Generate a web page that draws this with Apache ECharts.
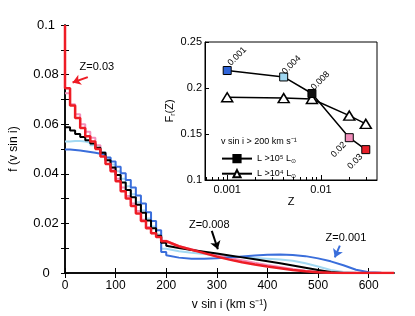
<!DOCTYPE html>
<html><head><meta charset="utf-8">
<script src="https://cdn.jsdelivr.net/npm/echarts@6/dist/echarts.min.js"></script>
<style>html,body{margin:0;padding:0;background:#fff}#c{width:415px;height:316px}</style>
</head><body><div id="c"></div>
<script>
// ---- main panel: histogram bins (0-200 km/s, 10 km/s bins) ----
const vBinEdges = [0,10,20,30,40,50,60,70,80,90,100,110,120,130,140,150,160,170,180,190,200];
// ---- main panel: smooth tail (200-650 km/s) ----
const vTail = [200,225,250,275,300,325,350,375,400,425,450,475,500,525,550,575,600,625,650];

const z001Bins = [0.0498,0.0496,0.0494,0.0491,0.0488,0.0485,0.0481,0.0476,0.0466,0.0450,0.0428,0.0402,0.0375,0.0345,0.0313,0.0280,0.0245,0.0210,0.0172,0.0085];
const z001Tail = [0.0072,0.0062,0.0057,0.0057,0.0059,0.0063,0.0067,0.0071,0.0074,0.0075,0.0073,0.0068,0.0059,0.0047,0.0031,0.0013,0.0003,0.0001,0];

const z004Bins = [0.0530,0.0532,0.0532,0.0530,0.0525,0.0515,0.0502,0.0488,0.0465,0.0438,0.0410,0.0380,0.0350,0.0318,0.0285,0.0252,0.0220,0.0188,0.0155,0.0098];
const z004Tail = [0.0094,0.0088,0.0082,0.0077,0.0072,0.0068,0.0064,0.0060,0.0057,0.0054,0.0049,0.0039,0.0026,0.0012,0.0004,0.0001,0,0,0];

const z008Bins = [0.0588,0.0575,0.0560,0.0548,0.0535,0.0522,0.0505,0.0485,0.0455,0.0425,0.0395,0.0365,0.0335,0.0305,0.0275,0.0243,0.0212,0.0180,0.0150,0.0122];
const z008Tail = [0.0110,0.0101,0.0093,0.0086,0.0079,0.0071,0.0063,0.0055,0.0047,0.0039,0.0030,0.0021,0.0012,0.0004,0,0,0,0,0];

const z02Bins = [0.0725,0.0680,0.0640,0.0600,0.0570,0.0545,0.0515,0.0485,0.0455,0.0420,0.0380,0.0345,0.0310,0.0280,0.0250,0.0215,0.0185,0.0160,0.0145,0.0130];
const z02Tail = [0.0122,0.0108,0.0096,0.0084,0.0072,0.0061,0.0051,0.0041,0.0032,0.0024,0.0016,0.0009,0.0004,0.0001,0,0,0,0,0];

const z03Spike = 0.1;
const z03Bins = [0.0745,0.0675,0.0625,0.0585,0.0551,0.0530,0.0500,0.0470,0.0440,0.0410,0.0370,0.0330,0.0300,0.0270,0.0240,0.0210,0.0180,0.0160,0.0145,0.0128];
const z03Tail = [0.0125,0.0108,0.0094,0.0080,0.0066,0.0054,0.0043,0.0034,0.0026,0.0019,0.0012,0.0007,0.0003,0.0001,0,0,0,0,0];

const xTicks = [0,100,200,300,400,500,600];

// ---- inset ----
const insetZ = [0.001,0.004,0.008,0.02,0.03];
const insetZLabels = ['0.001','0.004','0.008','0.02','0.03'];
const insetL5 = [0.219,0.212,0.194,0.146,0.133];
const insetL4 = [0.190,0.189,0.188,0.170,0.161];
const insetXMajor = [0.001,0.01];
const insetXMajorLabels = ['0.001','0.01'];
const insetXMinor = [0.0006,0.0007,0.0008,0.0009,0.002,0.003,0.004,0.005,0.006,0.007,0.008,0.009,0.02,0.03];

const C_BLUE='#3a6edb', C_LBLUE='#a3d9f2', C_BLACK='#000', C_PINK='#f390bb', C_RED='#ee1c25';
const insetColors = ['#2f64d8','#9fd6f0','#111','#f08dba','#e8202a'];
const insetLabelOffsets = [[17,-3],[14,-3],[15,-3],[-16,1],[-16,1]];

function buildCurve(bins, tail, spike){
  const d = [];
  if (spike !== undefined) d.push([vBinEdges[0], spike]);
  for (let i=0;i<bins.length;i++){
    d.push([vBinEdges[i], bins[i]]);
    d.push([vBinEdges[i+1], bins[i]]);
  }
  for (let i=0;i<tail.length;i++) d.push([vTail[i], tail[i]]);
  return d;
}

const FONT = 'Liberation Sans, Arial, Helvetica, sans-serif';
const L5 = 'L >10⁵ L⊙', L4 = 'L >10⁴ L⊙';

function mainSeries(name, color, width, data, extra){
  return Object.assign({type:'line', name, xAxisIndex:0, yAxisIndex:0, data, symbol:'none',
    lineStyle:{color, width}, itemStyle:{color}, silent:true, animation:false}, extra||{});
}
function arrow(color, from, to){
  return {silent:true, symbol:['none','arrow'], symbolSize:8, animation:false,
    lineStyle:{color, width:2, type:'solid'}, label:{show:false},
    data:[[{coord:from},{coord:to}]]};
}
function note(text, at){
  return {silent:true, symbol:'circle', symbolSize:0, animation:false,
    itemStyle:{color:'rgba(0,0,0,0)'},
    label:{show:true, position:'inside', color:'#000', fontSize:11, fontFamily:FONT, formatter:text},
    data:[{coord:at}]};
}

const chart = echarts.init(document.getElementById('c'), null, {renderer:'canvas'});
chart.setOption({
  animation:false,
  textStyle:{fontFamily:FONT},
  title:{text:'v sin i > 200 km s⁻¹', left:216, top:132, textStyle:{fontSize:9, fontWeight:'normal', color:'#000', fontFamily:FONT}},
  legend:{data:[L5,L4], orient:'vertical', left:216, top:149, itemWidth:30, itemHeight:9, itemGap:5,
    selectedMode:false, textStyle:{fontSize:9, color:'#000', fontFamily:FONT,
      rich:{t:{fontSize:9, fontFamily:FONT}, s:{fontSize:6, padding:[5,0,0,0], fontFamily:FONT}}},
    formatter: n => n===L5 ? '{t|L >10⁵ L}{s|⊙}' : '{t|L >10⁴ L}{s|⊙}'},
  grid:[
    {left:56, right:21, top:25, bottom:42},
    {left:205, right:38, top:42, bottom:136, show:true, borderColor:'#000', borderWidth:1}
  ],
  xAxis:[
    {gridIndex:0, type:'value', min:0, max:650, position:'bottom',
     axisLine:{lineStyle:{color:'#000', width:1.5}},
     axisTick:{inside:true, length:5, customValues:xTicks, lineStyle:{color:'#000'}},
     axisLabel:{customValues:xTicks, fontSize:12, color:'#000', margin:7},
     splitLine:{show:false},
     name:'v sin i (km s⁻¹)', nameLocation:'middle', nameGap:26, nameTextStyle:{fontSize:12, color:'#000'}},
    {gridIndex:0, type:'value', min:0, max:650, position:'top',
     axisLine:{lineStyle:{color:'#000', width:1.5}},
     axisTick:{inside:true, length:5, customValues:xTicks, lineStyle:{color:'#000'}},
     axisLabel:{show:false}, splitLine:{show:false}},
    {gridIndex:1, type:'log', logBase:10, min:0.00058, max:0.0395, position:'bottom',
     axisLine:{lineStyle:{color:'#000', width:1}},
     axisTick:{inside:true, length:5, customValues:insetXMajor, lineStyle:{color:'#000'}},
     axisLabel:{customValues:insetXMajor, fontSize:11, color:'#000', margin:4,
       formatter:(v)=>insetXMajorLabels[insetXMajor.findIndex(m=>Math.abs(m-v)<1e-9)] || ''},
     splitLine:{show:false},
     name:'Z', nameLocation:'middle', nameGap:16, nameTextStyle:{fontSize:11, color:'#000'}},
    {gridIndex:1, type:'log', logBase:10, min:0.00058, max:0.0395, position:'bottom',
     axisLine:{show:false},
     axisTick:{inside:true, length:3, customValues:insetXMinor, lineStyle:{color:'#000'}},
     axisLabel:{show:false}, splitLine:{show:false}}
  ],
  yAxis:[
    {gridIndex:0, type:'value', min:0, max:0.1, interval:0.02, position:'left',
     axisLine:{show:true, lineStyle:{color:'#000', width:1.5}},
     axisTick:{show:true, inside:true, length:4, lineStyle:{color:'#000'}},
     minorTick:{show:true, splitNumber:2, length:4, lineStyle:{color:'#000'}},
     axisLabel:{fontSize:13, color:'#000', align:'center', margin:19},
     splitLine:{show:false},
     name:'f (v sin i)', nameLocation:'middle', nameGap:45, nameTextStyle:{fontSize:12, color:'#000'}},
    {gridIndex:0, type:'value', min:0, max:0.1, interval:0.01, position:'right',
     axisLine:{show:true, lineStyle:{color:'#000', width:1.5}},
     axisTick:{show:true, inside:true, length:4, lineStyle:{color:'#000'}},
     axisLabel:{show:false}, splitLine:{show:false}},
    {gridIndex:1, type:'value', min:0.1, max:0.25, interval:0.05, position:'left',
     axisLine:{show:true, lineStyle:{color:'#000', width:1}},
     axisTick:{show:true, inside:true, length:4, lineStyle:{color:'#000'}},
     axisLabel:{fontSize:11, color:'#000', margin:3},
     splitLine:{show:false},
     name:'{a|F}{b|r}{a|(Z)}', nameLocation:'middle', nameGap:27,
     nameTextStyle:{color:'#000', rich:{a:{fontSize:11, fontFamily:FONT}, b:{fontSize:7, padding:[6,0,0,0], fontFamily:FONT}}}}
  ],
  series:[
    mainSeries('Z=0.004', C_LBLUE, 2, buildCurve(z004Bins, z004Tail)),
    mainSeries('Z=0.02', C_PINK, 2, buildCurve(z02Bins, z02Tail)),
    mainSeries('Z=0.001', C_BLUE, 2, buildCurve(z001Bins, z001Tail), {
      markLine: arrow(C_BLUE, [543, 0.0110], [533, 0.0063]),
      markPoint: note('Z=0.001', [555, 0.0141])}),
    mainSeries('Z=0.008', C_BLACK, 2, buildCurve(z008Bins, z008Tail), {
      markLine: arrow(C_BLACK, [290, 0.0170], [302, 0.0096]),
      markPoint: note('Z=0.008', [285, 0.0195])}),
    mainSeries('Z=0.03', C_RED, 2.5, buildCurve(z03Bins, z03Tail, z03Spike), {
      markLine: arrow(C_RED, [45, 0.0790], [15, 0.0768]),
      markPoint: note('Z=0.03', [63, 0.0830])}),
    {type:'line', name:L5, xAxisIndex:2, yAxisIndex:2, symbol:'rect', symbolSize:8,
     lineStyle:{color:'#000', width:1.5}, itemStyle:{color:'#000', borderColor:'#000', borderWidth:1},
     data: insetZ.map((z,i)=>({value:[z, insetL5[i]], itemStyle:{color:insetColors[i], borderColor:'#000', borderWidth:1},
       label:{show:true, position:'inside', rotate:45, fontSize:9, color:'#000', formatter:insetZLabels[i], offset:insetLabelOffsets[i]}})),
     z:5},
    {type:'line', name:L4, xAxisIndex:2, yAxisIndex:2, symbol:'triangle', symbolSize:[11,9],
     lineStyle:{color:'#000', width:1.5}, itemStyle:{color:'#fff', borderColor:'#000', borderWidth:1.5},
     data: insetZ.map((z,i)=>[z, insetL4[i]]), z:4}
  ]
});
</script>
</body></html>
